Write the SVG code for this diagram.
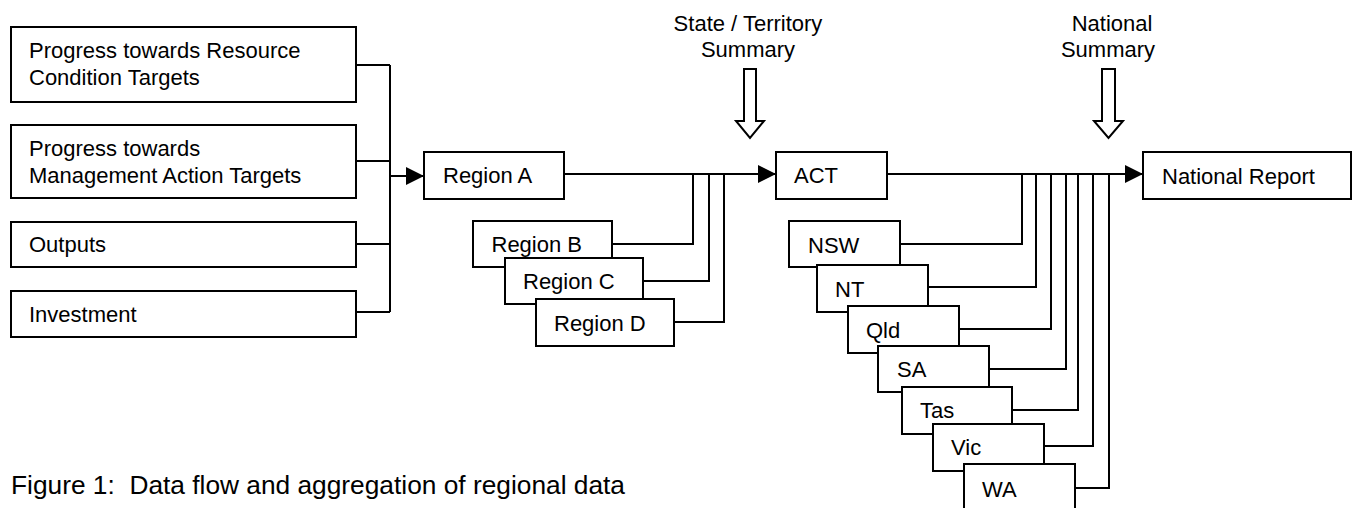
<svg xmlns="http://www.w3.org/2000/svg" width="1359" height="508" viewBox="0 0 1359 508">
<style>
.box{fill:#fff;stroke:#000;stroke-width:2}
.t{font-family:"Liberation Sans",Arial,sans-serif;font-size:22px;fill:#000}
.tc{font-family:"Liberation Sans",Arial,sans-serif;font-size:22px;fill:#000;text-anchor:middle}
.cap{font-family:"Liberation Sans",Arial,sans-serif;font-size:26.3px;fill:#000;white-space:pre}
.c{fill:none;stroke:#000;stroke-width:2}
.hollow{fill:#fff;stroke:#000;stroke-width:2;stroke-linejoin:miter}
</style>
<defs>
<marker id="ah" markerUnits="userSpaceOnUse" markerWidth="18" markerHeight="18" refX="18" refY="9" orient="auto">
<path d="M0,0 L18,9 L0,18 z" fill="#000"/>
</marker>
</defs>
<rect width="1359" height="508" fill="#fff"/>

<g id="connectors">
<path class="c" d="M356,65 H390 M356,161 H390 M356,244 H390 M356,312 H390 M390,65 V312"/>
<path class="c" d="M390,176 H424" marker-end="url(#ah)"/>
<path class="c" d="M564,174 H776" marker-end="url(#ah)"/>
<path class="c" d="M612,244 H693 V174 M643,281 H709 V174 M674,322 H724 V174"/>
<path class="c" d="M887,174 H1143" marker-end="url(#ah)"/>
<path class="c" d="M900,244 H1022 V174 M928,287 H1036 V174 M959,329 H1051 V174 M989,369 H1066 V174 M1012,410 H1078 V174 M1044,446 H1093 V174 M1075,488 H1109 V174"/>
</g>

<g id="n-resource">
<rect class="box" x="11" y="27" width="345" height="75"/>
<text class="t" x="29" y="57.5">Progress towards Resource</text>
<text class="t" x="29" y="85">Condition Targets</text>
</g>
<g id="n-management">
<rect class="box" x="11" y="125" width="345" height="73"/>
<text class="t" x="29" y="156">Progress towards</text>
<text class="t" x="29" y="183.3">Management Action Targets</text>
</g>
<g id="n-outputs">
<rect class="box" x="11" y="222" width="345" height="45"/>
<text class="t" x="29" y="251.7">Outputs</text>
</g>
<g id="n-investment">
<rect class="box" x="11" y="291" width="345" height="46"/>
<text class="t" x="29" y="321.7">Investment</text>
</g>

<g id="n-region-a">
<rect class="box" x="424" y="152" width="140" height="47"/>
<text class="t" x="443" y="183">Region A</text>
</g>
<g id="n-region-b">
<rect class="box" x="473" y="221" width="139" height="46"/>
<text class="t" x="491.5" y="252">Region B</text>
</g>
<g id="n-region-c">
<rect class="box" x="505" y="258" width="138" height="46"/>
<text class="t" x="523" y="289">Region C</text>
</g>
<g id="n-region-d">
<rect class="box" x="536" y="299" width="138" height="47"/>
<text class="t" x="554" y="331">Region D</text>
</g>

<g id="n-state-summary">
<text class="tc" x="748" y="30.5">State / Territory</text>
<text class="tc" x="748" y="56.5">Summary</text>
<polygon class="hollow" points="744,69 756,69 756,121 764,121 750,138 736,121 744,121"/>
</g>

<g id="n-act">
<rect class="box" x="776" y="152" width="111" height="47"/>
<text class="t" x="794" y="183.3">ACT</text>
</g>
<g id="n-nsw">
<rect class="box" x="789" y="221" width="111" height="46"/>
<text class="t" x="808" y="252.5">NSW</text>
</g>
<g id="n-nt">
<rect class="box" x="817" y="265" width="111" height="47"/>
<text class="t" x="835" y="296.5">NT</text>
</g>
<g id="n-qld">
<rect class="box" x="848" y="306" width="111" height="47"/>
<text class="t" x="866" y="337.5">Qld</text>
</g>
<g id="n-sa">
<rect class="box" x="878" y="346" width="111" height="46"/>
<text class="t" x="897" y="376.5">SA</text>
</g>
<g id="n-tas">
<rect class="box" x="902" y="387" width="110" height="47"/>
<text class="t" x="920" y="417.5">Tas</text>
</g>
<g id="n-vic">
<rect class="box" x="933" y="424" width="111" height="47"/>
<text class="t" x="951" y="454.5">Vic</text>
</g>
<g id="n-wa">
<rect class="box" x="964" y="464" width="111" height="50"/>
<text class="t" x="982" y="496.5">WA</text>
</g>

<g id="n-national-summary">
<text class="tc" x="1112" y="30.5">National</text>
<text class="tc" x="1108" y="56.7">Summary</text>
<polygon class="hollow" points="1102,69 1115,69 1115,121 1123,121 1108.5,138 1094,121 1102,121"/>
</g>

<g id="n-national-report">
<rect class="box" x="1143" y="152" width="208" height="47"/>
<text class="t" x="1162" y="184.3">National Report</text>
</g>

<text class="cap" x="11" y="494">Figure 1:  Data flow and aggregation of regional data</text>
</svg>
